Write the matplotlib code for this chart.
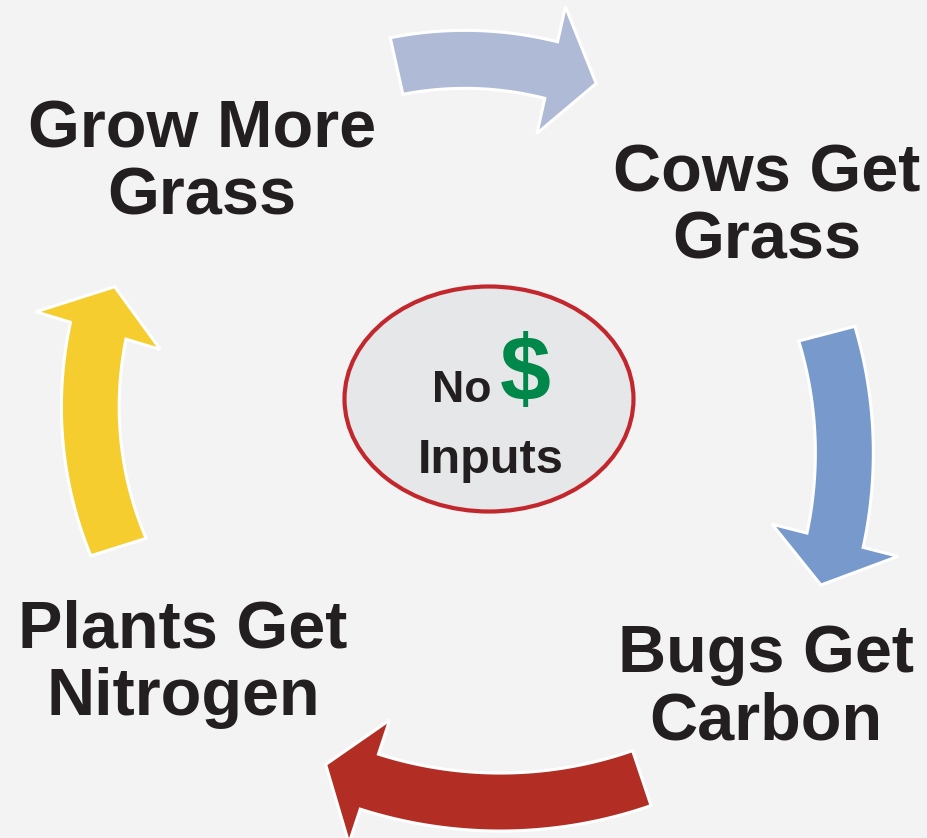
from matplotlib import pyplot as plt
from matplotlib.patches import Polygon, Ellipse
import numpy as np

# cycle steps, clockwise from top-left
labels = ['Grow More\nGrass', 'Cows Get\nGrass', 'Bugs Get\nCarbon', 'Plants Get\nNitrogen']
centre_top = 'No'
centre_sign = '$'
centre_bottom = 'Inputs'

# arrows in the same order as the steps they lead away from
arrow_colors = ['#AEBAD6', '#7799CC', '#B22E25', '#F5CD2E']

# label placement: (centre x, first baseline) in pixels
label_pos = [(202, 147), (767, 191), (766, 672), (183, 647.5)]
line_pitch = 67

# arc geometry per arrow: centre x, centre y, tail radius, head radius,
# tail angle, head angle (deg, y down)
arcs = [
    (474, 412.5, 355, 351, -102.6, -77.3),
    (430, 437.0, 410, 418, -14.6, 14.3),
    (505, 371.5, 429, 432, 71.4, 108.3),
    (458, 440.0, 356, 376, 162.5, 196.9),
]
BODY = 58
HEAD = 130
HEAD_LEN = 47

W, H = 928, 838
BG = '#F3F3F3'
TXT = '#231F20'
FONT = ['Liberation Sans', 'DejaVu Sans']


def curved_arrow(ax, cx, cy, r0, r1, a0, a1, color):
    a0, a1 = np.radians(a0), np.radians(a1)
    sgn = np.sign(a1 - a0)
    t = np.linspace(a0, a1, 80)
    r = np.linspace(r0, r1, 80)
    ro, ri = r + BODY / 2, r - BODY / 2
    outer = np.c_[cx + ro * np.cos(t), cy + ro * np.sin(t)]
    inner = np.c_[cx + ri * np.cos(t), cy + ri * np.sin(t)][::-1]
    at = a1 + sgn * HEAD_LEN / r1
    head = np.array([
        [cx + (r1 + HEAD / 2) * np.cos(a1), cy + (r1 + HEAD / 2) * np.sin(a1)],
        [cx + r1 * np.cos(at), cy + r1 * np.sin(at)],
        [cx + (r1 - HEAD / 2) * np.cos(a1), cy + (r1 - HEAD / 2) * np.sin(a1)],
    ])
    pts = np.vstack([outer, head, inner])
    ax.add_patch(Polygon(pts, closed=True, facecolor=color, edgecolor='white',
                         lw=2.2, joinstyle='miter', zorder=2))


fig = plt.figure(figsize=(W / 100, H / 100), dpi=100)
fig.patch.set_facecolor(BG)
ax = fig.add_axes([0, 0, 1, 1])
ax.set_xlim(0, W)
ax.set_ylim(H, 0)
ax.axis('off')

for (cx, cy, r0, r1, a0, a1), col in zip(arcs, arrow_colors):
    curved_arrow(ax, cx, cy, r0, r1, a0, a1, col)

for lab, (x, y) in zip(labels, label_pos):
    for i, line in enumerate(lab.split('\n')):
        ax.text(x, y + i * line_pitch, line, ha='center', va='baseline',
                fontsize=48, fontweight='bold', color=TXT, family=FONT, zorder=3)

# centre badge
ax.add_patch(Ellipse((489, 399), 289, 225, facecolor='#E6E7E8',
                     edgecolor='#C1272D', lw=3, zorder=2))
ax.text(462, 401.7, centre_top, ha='center', va='baseline', fontsize=32,
        fontweight='bold', color=TXT, family=FONT, zorder=3)
ax.text(525.5, 376, centre_sign, ha='center', va='center', fontsize=66,
        fontweight='bold', color='#00874A', family=FONT, zorder=3)
ax.text(491, 473.3, centre_bottom, ha='center', va='baseline', fontsize=35,
        fontweight='bold', color=TXT, family=FONT, zorder=3)

fig.savefig('out.png', dpi=100, facecolor=BG)
